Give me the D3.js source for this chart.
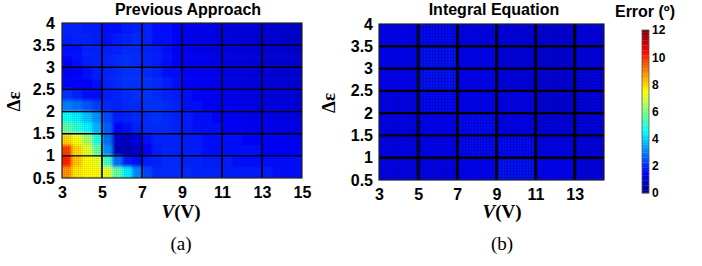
<!DOCTYPE html>
<html>
<head>
<meta charset="utf-8">
<script src="https://cdn.jsdelivr.net/npm/d3@7"></script>
<style>
  body { margin: 0; background: #fff; }
  svg { display: block; }
  .tick text { font-family: Arial, "Liberation Sans", sans-serif; font-weight: bold; font-size: 16px; fill: #000; }
  .title { font-family: Arial, "Liberation Sans", sans-serif; font-weight: bold; font-size: 16px; }
  .serif { font-family: "Times New Roman", "Liberation Serif", serif; }
</style>
</head>
<body>
<div id="chart"></div>
<script>
// panel (a): cell left edges (V) and cell bottom edges (Δε, top row first)
const voltA = [3, 3.5, 4, 4.5, 5, 5.5, 6, 6.5, 7, 7.5, 8, 8.5, 9, 9.5, 10, 10.5, 11, 11.5, 12, 12.5, 13, 13.5, 14, 14.5];
const epsA = [3.75, 3.5, 3.25, 3, 2.75, 2.5, 2.25, 2, 1.75, 1.5, 1.25, 1, 0.75, 0.5];
const errorA = [
  [1.9,1.9,1.8,1.8,1.7,1.7,1.8,1.9,1.9,1.7,1.6,1.5,1.4,1.3,1.3,1.2,1.2,1.1,1.1,1.0,1.0,1.0,0.9,0.9],
  [1.8,1.9,1.9,1.8,1.7,1.8,1.9,2.0,1.9,1.7,1.6,1.5,1.4,1.3,1.3,1.2,1.2,1.1,1.1,1.0,1.0,1.0,0.9,0.9],
  [1.6,1.7,1.9,1.9,1.8,1.9,2.0,2.0,1.9,1.8,1.6,1.5,1.4,1.3,1.3,1.2,1.2,1.1,1.1,1.1,1.0,1.0,1.0,0.9],
  [1.5,1.6,1.8,1.9,1.9,2.0,2.1,2.0,1.9,1.8,1.7,1.5,1.4,1.4,1.3,1.3,1.2,1.2,1.1,1.1,1.0,1.0,1.0,1.0],
  [1.4,1.5,1.6,1.8,1.9,2.0,2.1,2.1,2.0,1.9,1.7,1.6,1.5,1.4,1.3,1.3,1.2,1.2,1.1,1.1,1.1,1.0,1.0,1.0],
  [1.5,1.5,1.5,1.7,1.9,2.0,2.1,2.1,2.1,2.0,1.8,1.7,1.5,1.4,1.4,1.3,1.3,1.2,1.2,1.1,1.1,1.1,1.0,1.0],
  [2.1,1.9,1.7,1.6,1.8,1.9,2.0,2.1,2.1,2.0,1.9,1.8,1.6,1.5,1.4,1.4,1.3,1.3,1.2,1.2,1.1,1.1,1.1,1.0],
  [3.0,2.8,2.5,2.2,2.0,1.9,2.0,2.0,2.1,2.1,2.0,1.9,1.7,1.6,1.5,1.4,1.4,1.3,1.3,1.2,1.2,1.2,1.1,1.1],
  [4.6,4.3,3.8,3.2,2.4,1.8,1.9,2.0,2.0,2.1,2.0,1.9,1.8,1.7,1.6,1.5,1.4,1.4,1.3,1.3,1.3,1.2,1.2,1.2],
  [5.6,5.0,4.4,3.6,2.6,1.5,1.6,1.9,2.0,2.0,2.0,1.9,1.8,1.7,1.6,1.6,1.5,1.5,1.4,1.4,1.4,1.3,1.3,1.3],
  [8.0,7.4,6.4,4.8,2.8,0.9,0.8,1.2,1.6,1.9,1.9,1.9,1.8,1.8,1.7,1.7,1.6,1.6,1.5,1.5,1.5,1.4,1.4,1.4],
  [9.8,8.0,7.2,5.6,3.2,0.7,0.7,0.9,1.5,1.8,1.9,1.9,1.8,1.8,1.7,1.7,1.7,1.6,1.6,1.6,1.5,1.5,1.5,1.5],
  [10.2,8.2,7.6,7.2,5.2,2.8,1.8,1.6,1.8,1.9,2.0,2.0,1.9,1.9,1.8,1.8,1.8,1.7,1.7,1.7,1.7,1.6,1.6,1.6],
  [8.8,7.8,7.6,7.6,7.2,5.6,4.3,3.1,2.3,2.0,2.0,2.0,2.0,1.9,1.9,1.9,1.8,1.8,1.8,1.8,1.8,1.7,1.7,1.7]
];

// panel (b)
const voltB = [3, 5, 7, 9, 11, 13];
const voltBEnd = 14.5;
const epsB = [3.5, 3, 2.5, 2, 1.5, 1, 0.5];
const errorB = [
  [1.5, 1.6, 1.4, 1.3, 1.2, 1.3],
  [1.5, 1.7, 1.5, 1.3, 1.2, 1.3],
  [1.5, 1.7, 1.5, 1.3, 1.2, 1.25],
  [1.4, 1.6, 1.5, 1.4, 1.2, 1.25],
  [1.4, 1.5, 1.6, 1.4, 1.25, 1.25],
  [1.4, 1.5, 1.6, 1.6, 1.4, 1.3],
  [1.4, 1.4, 1.5, 1.7, 1.5, 1.3]
];

const xTicksA = [3, 5, 7, 9, 11, 13, 15];
const xTicksB = [3, 5, 7, 9, 11, 13];
const yTicks = [0.5, 1, 1.5, 2, 2.5, 3, 3.5, 4];
const cbTicks = [0, 2, 4, 6, 8, 10, 12];

function jet(v) {
  const t = Math.max(0, Math.min(1, v / 12));
  const f = s => Math.round(255 * Math.max(0, Math.min(1, 1.5 - Math.abs(4 * t - s))));
  return `rgb(${f(3)},${f(2)},${f(1)})`;
}

const svg = d3.select("#chart").append("svg")
  .attr("width", 702).attr("height", 266);

const defs = svg.append("defs");
const blur = defs.append("filter").attr("id", "soft")
  .attr("x", "-5%").attr("y", "-5%").attr("width", "110%").attr("height", "110%");
blur.append("feGaussianBlur").attr("stdDeviation", 1.8);

const dots = defs.append("pattern").attr("id", "dots")
  .attr("width", 2).attr("height", 2).attr("patternUnits", "userSpaceOnUse");
dots.append("rect").attr("width", 1).attr("height", 1).attr("fill", "#000").attr("opacity", 0.12);

const stripes = defs.append("pattern").attr("id", "stripes")
  .attr("width", 3).attr("height", 3).attr("patternUnits", "userSpaceOnUse");
stripes.append("rect").attr("width", 1).attr("height", 3).attr("fill", "#000").attr("opacity", 0.24);
stripes.append("rect").attr("width", 3).attr("height", 1).attr("fill", "#000").attr("opacity", 0.12);

function panel(opts) {
  const x = d3.scaleLinear().domain(opts.xDomain).range(opts.xRange);
  const y = d3.scaleLinear().domain([0.5, 4]).range(opts.yRange);
  const g = svg.append("g");

  defs.append("clipPath").attr("id", opts.id + "-clip")
    .append("rect")
    .attr("x", opts.xRange[0]).attr("y", opts.yRange[1])
    .attr("width", opts.xRange[1] - opts.xRange[0])
    .attr("height", opts.yRange[0] - opts.yRange[1]);

  const cells = [];
  opts.eps.forEach((e, r) => {
    opts.volt.forEach((v, c) => {
      const v1 = c < opts.volt.length - 1 ? opts.volt[c + 1] : opts.voltEnd;
      cells.push({ v0: v, v1: v1, e0: e, e1: e + opts.eStep, val: opts.values[r][c], c: c, r: r });
    });
  });

  const heat = g.append("g").attr("clip-path", `url(#${opts.id}-clip)`);
  const inner = heat.append("g");
  if (opts.smooth) inner.attr("filter", "url(#soft)");
  const nc = opts.volt.length, nr = opts.eps.length;
  inner.selectAll("rect").data(cells).enter().append("rect")
    .attr("x", d => x(d.v0) - (d.c === 0 ? 8 : 0))
    .attr("y", d => y(d.e1) - (d.r === 0 ? 8 : 0))
    .attr("width", d => x(d.v1) - x(d.v0) + (d.c === 0 ? 8 : 0) + (d.c === nc - 1 ? 8 : 0) + 0.5)
    .attr("height", d => y(d.e0) - y(d.e1) + (d.r === 0 ? 8 : 0) + (d.r === nr - 1 ? 8 : 0) + 0.5)
    .attr("fill", d => jet(d.val));
  heat.append("rect")
    .attr("x", opts.xRange[0]).attr("y", opts.yRange[1])
    .attr("width", opts.xRange[1] - opts.xRange[0])
    .attr("height", opts.yRange[0] - opts.yRange[1])
    .attr("fill", `url(#${opts.texture})`);

  // grid
  g.selectAll(".vgrid").data(opts.xTicks.filter(t => t > opts.xDomain[0] && t < opts.xDomain[1]))
    .enter().append("line")
    .attr("x1", d => x(d)).attr("x2", d => x(d))
    .attr("y1", opts.yRange[0]).attr("y2", opts.yRange[1])
    .attr("stroke", "#000").attr("stroke-width", opts.gridW);
  g.selectAll(".hgrid").data(yTicks.slice(1, -1))
    .enter().append("line")
    .attr("y1", d => y(d)).attr("y2", d => y(d))
    .attr("x1", opts.xRange[0]).attr("x2", opts.xRange[1])
    .attr("stroke", "#000").attr("stroke-width", opts.gridW * 0.85);
  g.append("rect")
    .attr("x", opts.xRange[0]).attr("y", opts.yRange[1])
    .attr("width", opts.xRange[1] - opts.xRange[0])
    .attr("height", opts.yRange[0] - opts.yRange[1])
    .attr("fill", "none").attr("stroke", "#222").attr("stroke-width", 1.2);

  // axes
  const xa = g.append("g")
    .attr("transform", `translate(0,${opts.yRange[0]})`)
    .call(d3.axisBottom(x).tickValues(opts.xTicks).tickSize(0).tickPadding(9).tickFormat(d3.format("d")));
  xa.select(".domain").remove();
  const ya = g.append("g")
    .attr("transform", `translate(${opts.xRange[0]},0)`)
    .call(d3.axisLeft(y).tickValues(yTicks).tickSize(0).tickPadding(opts.yPad).tickFormat(d => d));
  ya.select(".domain").remove();

  // titles and labels
  g.append("text").attr("class", "title")
    .attr("x", opts.titleX).attr("y", 15).attr("text-anchor", "middle")
    .text(opts.title);
  g.append("text").attr("class", "serif")
    .attr("transform", `translate(${opts.xRange[0] - opts.epsOff},${(opts.yRange[0] + opts.yRange[1]) / 2 + 1}) rotate(-90)`)
    .attr("text-anchor", "middle")
    .style("font-size", "19px").style("font-weight", "bold")
    .text("Δε");
  const xl = g.append("text").attr("class", "serif")
    .attr("x", opts.labelX).attr("y", 218).attr("text-anchor", "middle")
    .style("font-size", "19px").style("font-weight", "bold");
  xl.append("tspan").style("font-style", "italic").text("V");
  xl.append("tspan").text("(V)");
  g.append("text").attr("class", "serif")
    .attr("x", opts.labelX).attr("y", 250).attr("text-anchor", "middle")
    .style("font-size", "19px")
    .text(opts.caption);
}

panel({
  id: "a", title: "Previous Approach", caption: "(a)", titleX: 188, labelX: 181,
  xDomain: [3, 15], xRange: [62, 302], yRange: [178, 23], yPad: 7, epsOff: 42,
  volt: voltA, voltEnd: 15, eps: epsA, eStep: 0.25, values: errorA,
  xTicks: xTicksA, gridW: 1.6, smooth: true, texture: "dots"
});

panel({
  id: "b", title: "Integral Equation", caption: "(b)", titleX: 494, labelX: 502,
  xDomain: [3, 14.5], xRange: [379, 604], yRange: [180, 24], yPad: 6, epsOff: 44,
  volt: voltB, voltEnd: voltBEnd, eps: epsB, eStep: 0.5, values: errorB,
  xTicks: xTicksB, gridW: 2.8, smooth: false, texture: "stripes"
});

// colorbar
const cb = d3.scaleLinear().domain([0, 12]).range([193, 30]);
const levels = d3.range(64).map(i => i * 12 / 64);
const cbg = svg.append("g");
cbg.selectAll("rect").data(levels).enter().append("rect")
  .attr("x", 642).attr("width", 7)
  .attr("y", d => cb(d + 12 / 64))
  .attr("height", d => cb(d) - cb(d + 12 / 64) + 0.3)
  .attr("fill", d => jet(d + 6 / 64));
cbg.append("rect").attr("x", 642).attr("y", 30).attr("width", 7).attr("height", 163)
  .attr("fill", "none").attr("stroke", "#555").attr("stroke-width", 0.8);
const cba = cbg.append("g").attr("transform", "translate(649,0)")
  .call(d3.axisRight(cb).tickValues(cbTicks).tickSize(0).tickPadding(3));
cba.select(".domain").remove();
cba.selectAll("text").style("font-size", "12px");
svg.append("text").attr("class", "title")
  .attr("x", 645).attr("y", 17).attr("text-anchor", "middle")
  .text("Error (º)");
</script>
</body>
</html>
